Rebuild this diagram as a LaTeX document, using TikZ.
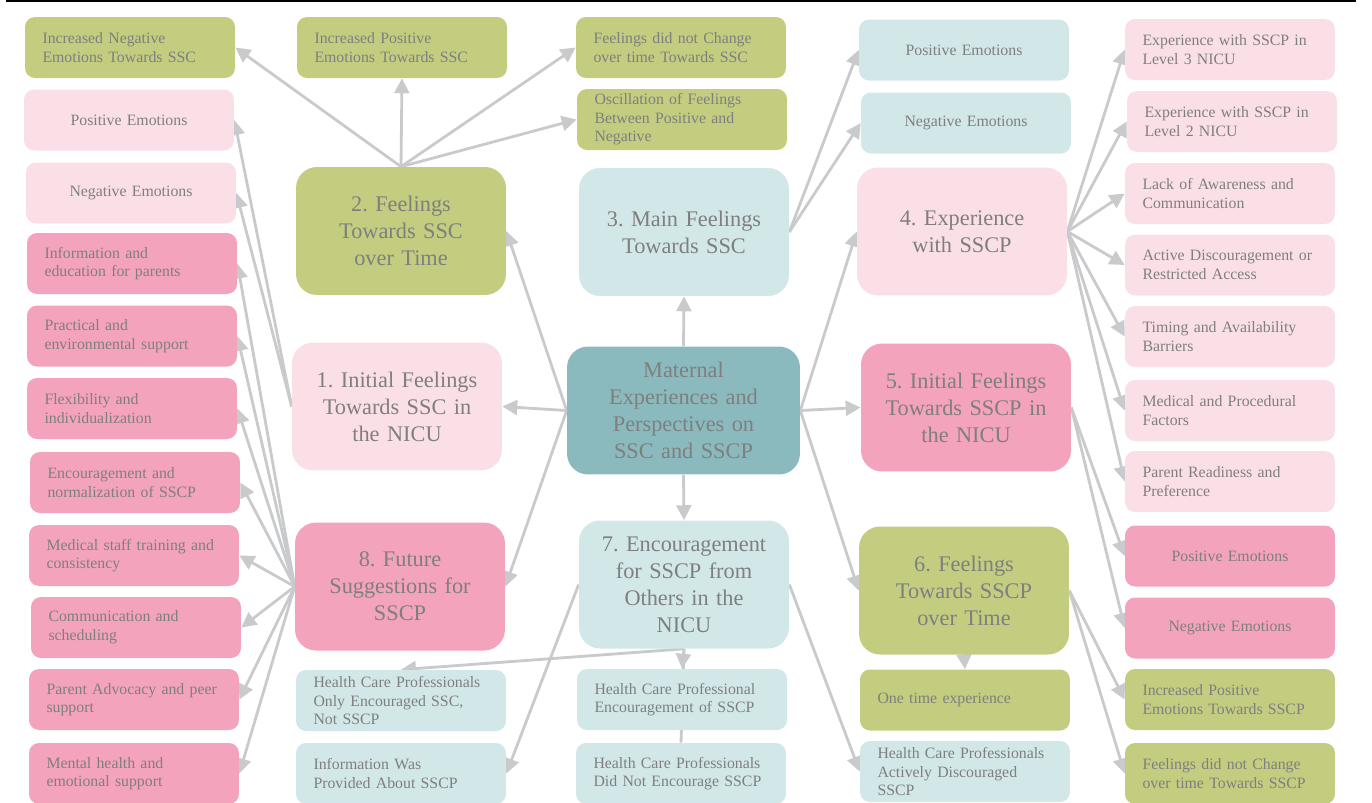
\documentclass[tikz,border=0pt]{standalone}
\usepackage{fontspec}
\setmainfont{Liberation Serif}
\frenchspacing
\usetikzlibrary{arrows.meta,backgrounds}
\definecolor{olivebox}{HTML}{C3CC7F}
\definecolor{palepink}{HTML}{FBDFE6}
\definecolor{rosebox}{HTML}{F3A3BB}
\definecolor{paleteal}{HTML}{D2E7E8}
\definecolor{hubteal}{HTML}{8ABABD}
\definecolor{linkgray}{HTML}{C9CACC}
\definecolor{textgray}{HTML}{7F7F7F}

\begin{document}
\begin{tikzpicture}[x=0.02cm,y=-0.02cm,
  leaf/.style={rectangle,rounded corners=0.2cm,minimum width=4.2cm,minimum height=1.22cm,
    text width=3.5cm,inner xsep=0.35cm,inner ysep=0pt,align=left,text=textgray,
    font=\fontsize{9}{10.6}\selectfont},
  leafc/.style={leaf,align=center},
  topic/.style={rectangle,rounded corners=0.42cm,minimum width=4.2cm,minimum height=2.56cm,
    text width=3.8cm,inner xsep=0.2cm,align=center,text=textgray,
    font=\fontsize{12.7}{15.3}\selectfont},
  link/.style={draw=linkgray,line width=1.6pt,-{Triangle[length=8.5pt,width=8.5pt]}}]%
\useasboundingbox (0,0) rectangle (1372,802);
\draw[line width=1.1pt] (6,1)--(1356,1);
% hub and the eight themes
\node[topic,fill=hubteal,minimum width=4.66cm,text width=4.26cm] (hub) at (683.5,410.5) {Maternal\\Experiences and\\Perspectives on\\SSC and SSCP}; %%
\node[topic,fill=palepink] (init1) at (397,406.5) {1. Initial Feelings\\Towards SSC in\\the NICU}; %%
\node[topic,fill=olivebox] (time2) at (401,231) {2. Feelings\\Towards SSC\\over Time}; %%
\node[topic,fill=paleteal] (main3) at (684,232) {3. Main Feelings\\Towards SSC}; %%
\node[topic,fill=palepink] (exp4) at (962,231.5) {4. Experience\\with SSCP}; %%
\node[topic,fill=rosebox] (init5) at (966,407.5) {5. Initial Feelings\\Towards SSCP in\\the NICU}; %%
\node[topic,fill=olivebox] (time6) at (964,590.5) {6. Feelings\\Towards SSCP\\over Time}; %%
\node[topic,fill=paleteal] (enc7) at (684,584.5) {7. Encouragement\\for SSCP from\\Others in the\\NICU}; %%
\node[topic,fill=rosebox] (fut8) at (400,586.5) {8. Future\\Suggestions for\\SSCP}; %%
% theme 1
\begin{scope}[every node/.style={leafc,fill=palepink}]%
\node (pos1) at (129,120) {Positive Emotions}; %%
\node (neg1) at (131,193) {Negative Emotions}; %%
\end{scope}
% theme 2
\begin{scope}[every node/.style={leaf,fill=olivebox}]%
\node (incneg2) at (130,47.5) {Increased Negative\\Emotions Towards SSC}; %%
\node (incpos2) at (402,47.5) {Increased Positive\\Emotions Towards SSC}; %%
\node (same2) at (681,47.5) {Feelings did not Change\\over time Towards SSC}; %%
\node (osc2) at (682,119.5) {Oscillation of Feelings\\Between Positive and\\Negative}; %%
\end{scope}
% theme 3
\begin{scope}[every node/.style={leafc,fill=paleteal}]%
\node (pos3) at (964,50) {Positive Emotions}; %%
\node (neg3) at (966,123) {Negative Emotions}; %%
\end{scope}
% theme 4
\begin{scope}[every node/.style={leaf,fill=palepink}]%
\node (lvl3) at (1230,49.5) {Experience with SSCP in\\Level 3 NICU}; %%
\node (lvl2) at (1232,121.5) {Experience with SSCP in\\Level 2 NICU}; %%
\node (aware4) at (1230,193.5) {Lack of Awareness and\\Communication}; %%
\node (restr4) at (1230,265) {Active Discouragement or\\Restricted Access}; %%
\node (timing4) at (1230,336.5) {Timing and Availability\\Barriers}; %%
\node (medic4) at (1230,410.5) {Medical and Procedural\\Factors}; %%
\node (ready4) at (1230,481.5) {Parent Readiness and\\Preference}; %%
\end{scope}
% theme 5
\begin{scope}[every node/.style={leafc,fill=rosebox}]%
\node (pos5) at (1230,556) {Positive Emotions}; %%
\node (neg5) at (1230,628) {Negative Emotions}; %%
\end{scope}
% theme 6
\begin{scope}[every node/.style={leaf,fill=olivebox}]%
\node (once6) at (965,700) {One time experience}; %%
\node (incpos6) at (1230,699.5) {Increased Positive\\Emotions Towards SSCP}; %%
\node (same6) at (1230,773.5) {Feelings did not Change\\over time Towards SSCP}; %%
\end{scope}
% theme 7
\begin{scope}[every node/.style={leaf,fill=paleteal}]%
\node (only7) at (401,700.5) {Health Care Professionals\\Only Encouraged SSC,\\Not SSCP}; %%
\node (info7) at (401,773.5) {Information Was\\Provided About SSCP}; %%
\node (hcp7) at (682,699.5) {Health Care Professional\\Encouragement of SSCP}; %%
\node (not7) at (681,773.5) {Health Care Professionals\\Did Not Encourage SSCP}; %%
\node (disc7) at (965,771.5) {Health Care Professionals\\Actively Discouraged\\SSCP}; %%
\end{scope}
% theme 8
\begin{scope}[every node/.style={leaf,fill=rosebox}]%
\node (edu8) at (132,263.5) {Information and\\education for parents}; %%
\node (env8) at (132,336) {Practical and\\environmental support}; %%
\node (flex8) at (132,408.5) {Flexibility and\\individualization}; %%
\node (norm8) at (135,482.5) {Encouragement and\\normalization of SSCP}; %%
\node (staff8) at (134,555.5) {Medical staff training and\\consistency}; %%
\node (comm8) at (136,627.5) {Communication and\\scheduling}; %%
\node (peer8) at (134,699.5) {Parent Advocacy and peer\\support}; %%
\node (mental8) at (134,773.5) {Mental health and\\emotional support}; %%
\end{scope}
% connectors
\begin{scope}[on background layer]%
\begin{scope}[every path/.style=link]%
\draw (hub.north)--(main3.south); %%
\draw (hub.south)--(enc7.north); %%
\draw (hub.west)--(init1.east); %%
\draw (hub.west)--(time2.east); %%
\draw (hub.west)--(fut8.east); %%
\draw (hub.east)--(init5.west); %%
\draw (hub.east)--(exp4.west); %%
\draw (hub.east)--(time6.west); %%

\draw (init1.west)--(pos1.east); %%
\draw (init1.west)--(neg1.east); %%

\draw (time2.north)--(incneg2.east); %%
\draw (time2.north)--(incpos2.south); %%
\draw (time2.north)--(same2.west); %%
\draw (time2.north)--(osc2.west); %%

\draw (main3.east)--(pos3.west); %%
\draw (main3.east)--(neg3.west); %%

\draw (exp4.east)--(lvl3.west); %%
\draw (exp4.east)--(lvl2.west); %%
\draw (exp4.east)--(aware4.west); %%
\draw (exp4.east)--(restr4.west); %%
\draw (exp4.east)--(timing4.west); %%
\draw (exp4.east)--(medic4.west); %%
\draw (exp4.east)--(ready4.west); %%

\draw (init5.east)--(pos5.west); %%
\draw (init5.east)--(neg5.west); %%

\draw (time6.south)--(once6.north); %%
\draw (time6.east)--(incpos6.west); %%
\draw (time6.east)--(same6.west); %%

\draw (enc7.south)--(only7.north); %%
\draw (enc7.south)--(hcp7.north); %%
\draw[-] (enc7.south)--(not7.north); %%
\draw (enc7.west)--(info7.east); %%
\draw (enc7.east)--(disc7.west); %%

\draw (fut8.west)--(edu8.east); %%
\draw (fut8.west)--(env8.east); %%
\draw (fut8.west)--(flex8.east); %%
\draw (fut8.west)--(norm8.east); %%
\draw (fut8.west)--(staff8.east); %%
\draw (fut8.west)--(comm8.east); %%
\draw (fut8.west)--(peer8.east); %%
\draw (fut8.west)--(mental8.east); %%
\end{scope}
\end{scope}
\end{tikzpicture}
\end{document}
